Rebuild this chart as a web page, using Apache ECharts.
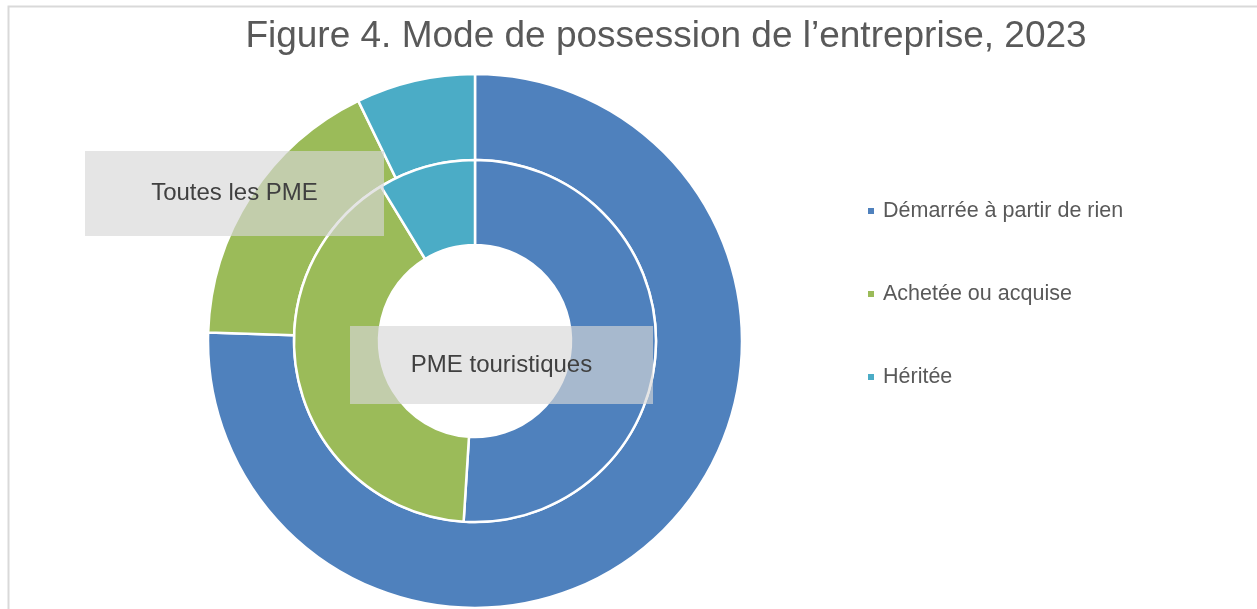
<!DOCTYPE html>
<html>
<head>
<meta charset="utf-8">
<script src="https://cdn.jsdelivr.net/npm/echarts@6/dist/echarts.min.js"></script>
<style>
  html, body { margin: 0; padding: 0; background: #fff; }
  #chartContainer { width: 1257px; height: 609px; }
</style>
</head>
<body>
<div id="chartContainer"></div>
<script>
var CATEGORIES = ["Démarrée à partir de rien", "Achetée ou acquise", "Héritée"];
var COLORS = ["#4F81BD", "#9BBB59", "#4BACC6"];
// outer ring
var TOUTES_PME = [75.5, 17.3, 7.2];
// inner ring
var PME_TOURISTIQUES = [51.0, 40.3, 8.7];

var TEXT_COLOR = "#595959";
var FONT = "'Liberation Sans', Arial, sans-serif";

function toPieData(values) {
  return CATEGORIES.map((name, i) => ({
    name: name,
    value: values[i],
    itemStyle: { color: COLORS[i] },
  }));
}

function labelBox(x, y, w, h, text) {
  return {
    type: "group",
    left: x,
    top: y,
    z: 100,
    children: [
      {
        type: "rect",
        z: 100,
        shape: { x: 0, y: 0, width: w, height: h },
        style: { fill: "rgba(215,215,215,0.65)" },
      },
      {
        type: "text",
        z: 101,
        x: w / 2,
        y: h / 2,
        style: {
          text: text,
          fill: "#404040",
          font: "24px " + FONT,
          textAlign: "center",
          textVerticalAlign: "middle",
        },
      },
    ],
  };
}

var CHART = echarts.init(document.getElementById("chartContainer"), null, { renderer: "canvas" });

var CHART_OPTION = {
  animation: false,
  textStyle: { fontFamily: FONT },
  title: {
    text: "Figure 4. Mode de possession de l\u2019entreprise, 2023",
    left: 661,
    top: 13,
    textAlign: "center",
    textStyle: { fontSize: 37, fontWeight: "normal", color: TEXT_COLOR, fontFamily: FONT },
  },
  legend: {
    orient: "vertical",
    left: 866,
    top: 200,
    padding: 0,
    itemWidth: 8,
    itemHeight: 8,
    itemGap: 61,
    icon: "rect",
    data: CATEGORIES,
    textStyle: { fontSize: 21.5, color: TEXT_COLOR, fontFamily: FONT, padding: [0, 0, 0, 3] },
    selectedMode: false,
  },
  series: [
    {
      name: "Toutes les PME",
      type: "pie",
      z: 2,
      center: [475, 341],
      radius: [181, 267],
      startAngle: 90,
      clockwise: true,
      label: { show: false },
      labelLine: { show: false },
      emphasis: { disabled: true },
      itemStyle: { borderColor: "#fff", borderWidth: 2.5 },
      data: toPieData(TOUTES_PME),
    },
    {
      name: "PME touristiques",
      type: "pie",
      z: 2,
      center: [475, 341],
      radius: [96, 181],
      startAngle: 90,
      clockwise: true,
      label: { show: false },
      labelLine: { show: false },
      emphasis: { disabled: true },
      itemStyle: { borderColor: "#fff", borderWidth: 2.5 },
      data: toPieData(PME_TOURISTIQUES),
    },
  ],
  graphic: {
    z: 100,
    elements: [
      {
        type: "rect",
        shape: { x: 8.5, y: 6.5, width: 1400, height: 800 },
        style: { fill: null, stroke: "#d9d9d9", lineWidth: 2 },
        silent: true,
      },
      labelBox(85, 151, 299, 85, "Toutes les PME"),
      labelBox(350, 326, 303, 78, "PME touristiques"),
    ],
  },
};

CHART.setOption(CHART_OPTION);
</script>
</body>
</html>
